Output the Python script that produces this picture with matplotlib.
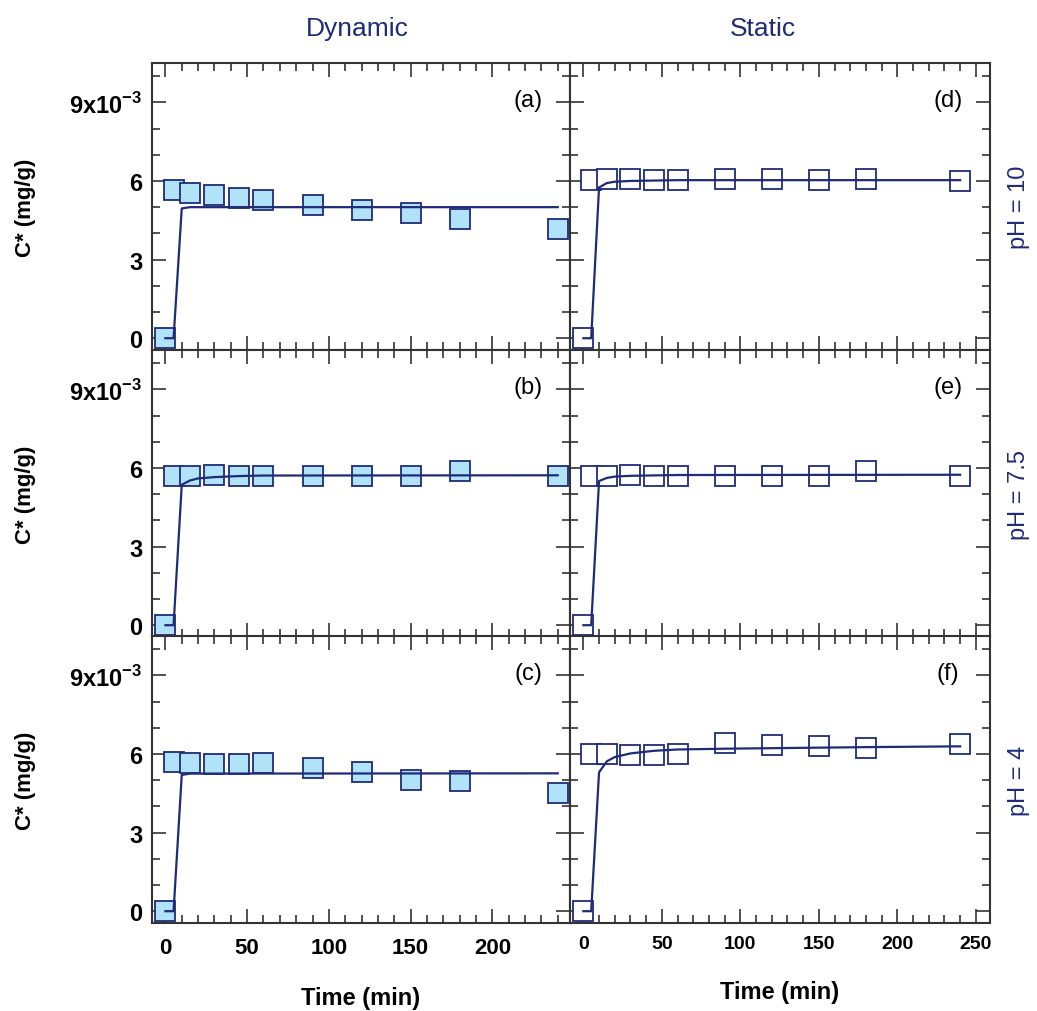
import matplotlib
matplotlib.use('Agg')
import matplotlib.pyplot as plt
from matplotlib.ticker import MultipleLocator, FuncFormatter

plt.rcParams['font.family'] = ['Liberation Sans', 'DejaVu Sans']
plt.rcParams['mathtext.fontset'] = 'custom'
plt.rcParams['mathtext.rm'] = 'Liberation Sans'
plt.rcParams['mathtext.bf'] = 'Liberation Sans:bold'

NAVY = '#1f2b77'
FILL = '#b0e3f8'
AXC = '#333333'

# sampling times (min)
t_exp = [0, 5, 15, 30, 45, 60, 90, 120, 150, 180, 240]

# measured C* (x 1e-3 mg/g)
dyn_ph10 = [0, 5.65, 5.54, 5.45, 5.35, 5.28, 5.09, 4.88, 4.79, 4.54, 4.18]
dyn_ph75 = [0, 5.71, 5.71, 5.74, 5.71, 5.71, 5.71, 5.71, 5.71, 5.89, 5.71]
dyn_ph4 = [0, 5.69, 5.67, 5.62, 5.62, 5.65, 5.45, 5.30, 4.99, 4.95, 4.50]
sta_ph10 = [0, 6.02, 6.09, 6.06, 6.04, 6.04, 6.06, 6.09, 6.02, 6.09, 6.00]
sta_ph75 = [0, 5.71, 5.71, 5.74, 5.71, 5.71, 5.71, 5.71, 5.71, 5.89, 5.71]
sta_ph4 = [0, 6.00, 6.00, 5.97, 5.95, 6.00, 6.42, 6.36, 6.32, 6.23, 6.38]

# model curves (x 1e-3 mg/g)
fit_a_t = [0, 5, 10, 15, 240]
fit_a_y = [0, 0, 4.95, 5.0, 5.0]
fit_b_t = [0, 5, 10, 15, 20, 30, 45, 60, 240]
fit_b_y = [0, 0, 5.36, 5.52, 5.60, 5.65, 5.69, 5.71, 5.72]
fit_c_t = [0, 5, 10, 15, 240]
fit_c_y = [0, 0, 5.20, 5.25, 5.26]
fit_d_t = [0, 5, 10, 15, 20, 30, 60, 240]
fit_d_y = [0, 0, 5.75, 5.92, 5.97, 6.00, 6.03, 6.03]
fit_e_t = [0, 5, 10, 15, 20, 30, 60, 240]
fit_e_y = [0, 0, 5.50, 5.62, 5.67, 5.70, 5.73, 5.74]
fit_f_t = [0, 5, 10, 15, 20, 30, 45, 60, 90, 120, 180, 240]
fit_f_y = [0, 0, 5.30, 5.72, 5.88, 6.02, 6.12, 6.17, 6.20, 6.22, 6.26, 6.29]

panels = [
    # (row, col, data, fit t, fit y, letter)
    (0, 0, dyn_ph10, fit_a_t, fit_a_y, '(a)'),
    (1, 0, dyn_ph75, fit_b_t, fit_b_y, '(b)'),
    (2, 0, dyn_ph4, fit_c_t, fit_c_y, '(c)'),
    (0, 1, sta_ph10, fit_d_t, fit_d_y, '(d)'),
    (1, 1, sta_ph75, fit_e_t, fit_e_y, '(e)'),
    (2, 1, sta_ph4, fit_f_t, fit_f_y, '(f)'),
]
ph_labels = ['pH = 10', 'pH = 7.5', 'pH = 4']
col_titles = ['Dynamic', 'Static']

W, H = 1037, 1012
col_x = [152, 570]
col_w = [418, 420]
row_top = [64, 351, 637]
row_h = 287
xlims = [(-8.2, 247.5), (-8.5, 259)]


def ylab(v, pos):
    v = round(v * 1e3)
    if v == 9:
        return r'9x10$^{\mathbf{-3}}$'
    return '%d' % v


fig = plt.figure(figsize=(W / 100, H / 100), dpi=100)

for row, col, y, ft, fy, letter in panels:
    rect = [col_x[col] / W, (H - row_top[row] - row_h) / H,
            col_w[col] / W, row_h / H]
    ax = fig.add_axes(rect)
    yv = [v * 1e-3 for v in y]
    fyv = [v * 1e-3 for v in fy]
    face = FILL if col == 0 else 'white'
    ax.plot(t_exp, yv, 's', ms=14, mfc=face, mec=NAVY, mew=1.3,
            clip_on=False, zorder=3)
    ax.plot(ft, fyv, '-', color=NAVY, lw=1.6, zorder=4)

    ax.set_xlim(*xlims[col])
    ax.set_ylim(-0.45e-3, 10.5e-3)
    ax.xaxis.set_major_locator(MultipleLocator(50))
    ax.xaxis.set_minor_locator(MultipleLocator(10))
    ax.yaxis.set_major_locator(MultipleLocator(3e-3))
    ax.yaxis.set_minor_locator(MultipleLocator(1e-3))
    ax.tick_params(which='both', direction='in', top=True, right=True,
                   color=AXC, width=1.2)
    ax.tick_params(which='major', length=10)
    ax.tick_params(which='minor', length=6)
    for s in ax.spines.values():
        s.set_color(AXC)
        s.set_linewidth(1.5)

    if col == 0:
        ax.yaxis.set_major_formatter(FuncFormatter(ylab))
        for lab in ax.get_yticklabels():
            lab.set_fontsize(17)
            lab.set_fontweight('bold')
        ax.tick_params(axis='y', pad=7)
        ax.set_ylabel('C* (mg/g)', fontsize=16, fontweight='bold',
                      labelpad=24)
    else:
        ax.set_yticklabels([])
        ax.text(1.07, 0.5, ph_labels[row], transform=ax.transAxes,
                rotation=90, ha='center', va='center', fontsize=17,
                color=NAVY)

    if row == 2:
        if col == 0:
            ax.tick_params(axis='x', labelsize=16, pad=10)
            for lab in ax.get_xticklabels():
                lab.set_fontweight('bold')
        else:
            ax.tick_params(axis='x', labelsize=14, pad=9)
            for lab in ax.get_xticklabels():
                lab.set_fontweight('bold')
        ax.set_xlabel('Time (min)', fontsize=17, fontweight='bold',
                      labelpad=20)
    else:
        ax.set_xticklabels([])

    if row == 0:
        ax.set_title(col_titles[col], fontsize=19, color=NAVY, pad=20,
                     x=0.49 if col == 0 else 0.46)

    ax.text(0.9, 0.87, letter, transform=ax.transAxes, ha='center',
            va='center', fontsize=17, color='black')

fig.savefig('out.png', dpi=100)
